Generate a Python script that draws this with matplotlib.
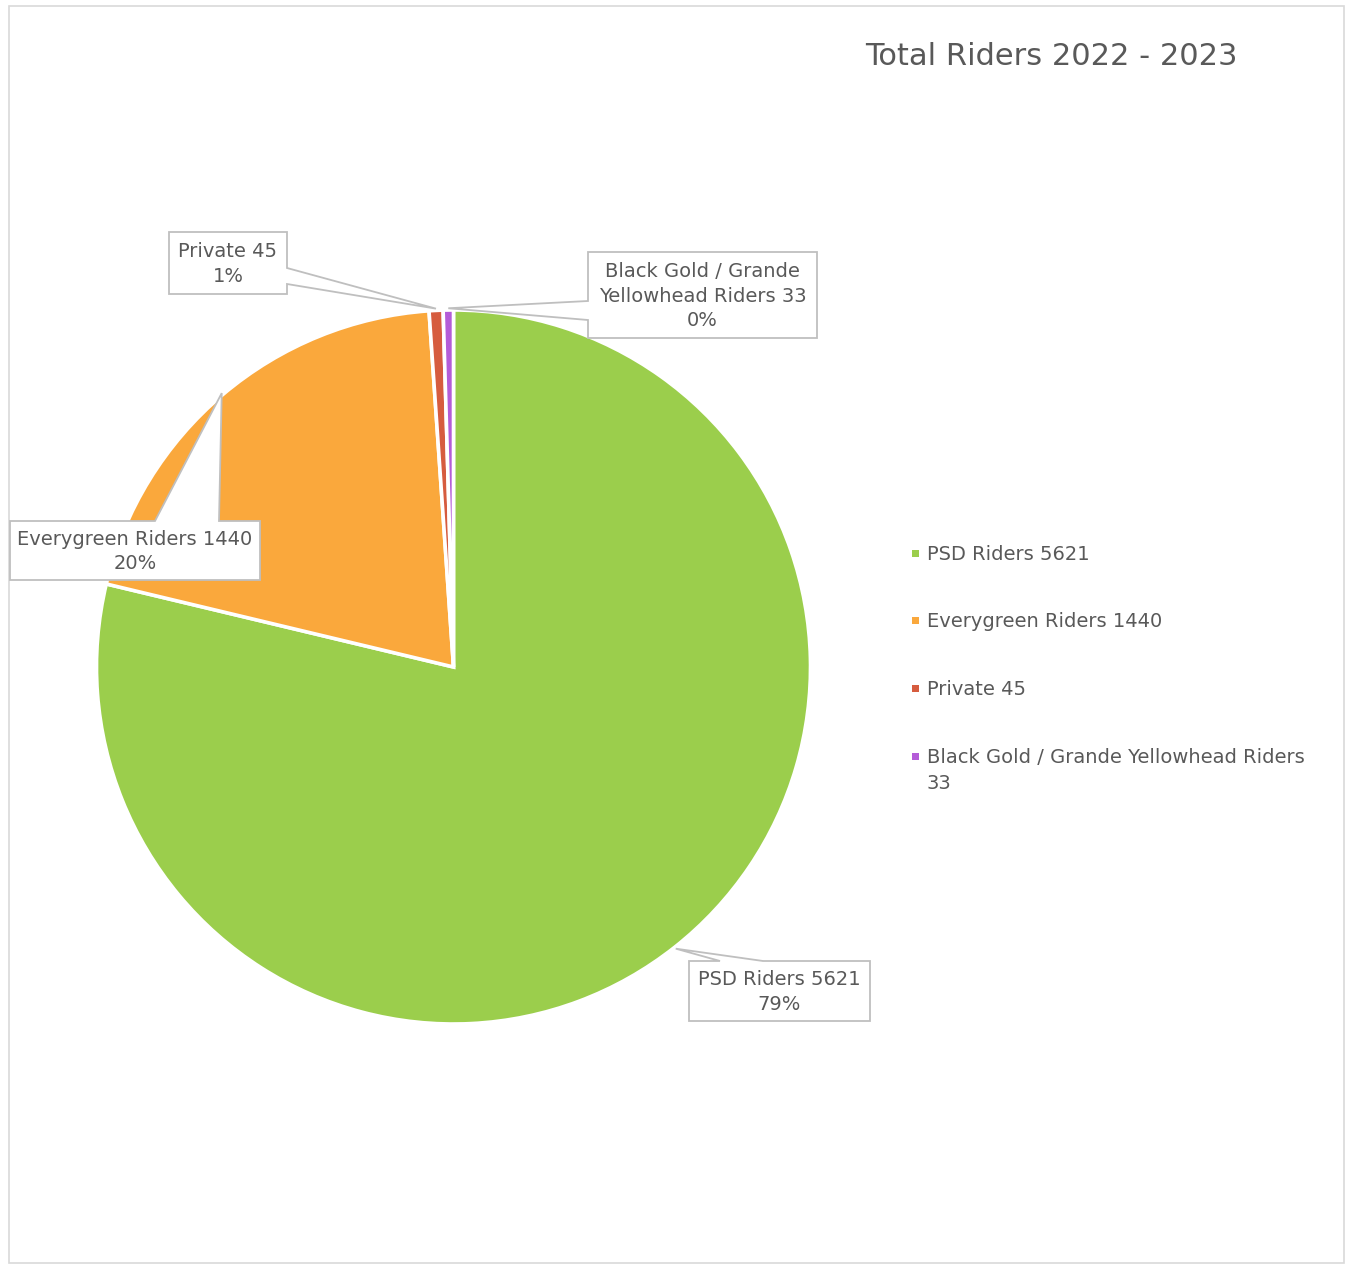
import matplotlib
matplotlib.use("Agg")
import matplotlib.pyplot as plt
from matplotlib.patches import Polygon, Rectangle
import numpy as np

# ---- data ----
categories = ["PSD Riders", "Everygreen Riders", "Private", "Black Gold / Grande Yellowhead Riders"]
values = [5621, 1440, 45, 33]
colors = ["#9BCE4C", "#FAA83C", "#D65C3F", "#B45CD8"]
title = "Total Riders 2022 - 2023"
label_texts = ["PSD Riders 5621", "Everygreen Riders 1440", "Private 45", "Black Gold / Grande\nYellowhead Riders 33"]
legend_texts = ["PSD Riders 5621", "Everygreen Riders 1440", "Private 45", "Black Gold / Grande Yellowhead Riders\n33"]

W, H = 1348, 1266
TXT = "#595959"
EDGE = "#BFBFBF"
FS = 14
plt.rcParams['font.family'] = ['DejaVu Sans']

fig = plt.figure(figsize=(W / 100, H / 100), dpi=100)
ax = fig.add_axes([0, 0, 1, 1])


def Y(y):
    return H - y


cx, cy, R = 453.5, 667, 357
wedges, _ = ax.pie(values, colors=colors, startangle=90, counterclock=False,
                   center=(cx, Y(cy)), radius=R,
                   wedgeprops=dict(edgecolor="white", linewidth=2.6))
ax.set_xlim(0, W)
ax.set_ylim(0, H)
ax.set_aspect("equal")
ax.axis("off")

# outer border
ax.add_patch(Rectangle((8.5, Y(1263)), 1335, 1257, fill=False, edgecolor="#D9D9D9", linewidth=1.2, zorder=0))

total = sum(values)
pcts = [round(v / total * 100) for v in values]

# callout layout (pixel coords, y down): box, side, base span
callouts = [
    ((689, 961, 870, 1021), "top", (720, 763)),
    ((10, 521, 260, 580), "top", (155, 219)),
    ((169, 232, 287, 294), "right", (268, 284)),
    ((588, 252, 817, 338), "left", (301, 320)),
]

for w, txt, p, (box, side, base) in zip(wedges, label_texts, pcts, callouts):
    mid = np.deg2rad((w.theta1 + w.theta2) / 2)
    tx = cx + R * 1.005 * np.cos(mid)
    ty = cy - R * 1.005 * np.sin(mid)
    x0, y0, x1, y1 = box
    b0, b1 = base
    if side == "top":
        pts = [(x0, y0), (b0, y0), (tx, ty), (b1, y0), (x1, y0), (x1, y1), (x0, y1)]
    elif side == "right":
        pts = [(x0, y0), (x1, y0), (x1, b0), (tx, ty), (x1, b1), (x1, y1), (x0, y1)]
    else:
        pts = [(x0, y0), (x1, y0), (x1, y1), (x0, y1), (x0, b1), (tx, ty), (x0, b0)]
    ax.add_patch(Polygon([(x, Y(y)) for x, y in pts], closed=True, facecolor="white",
                         edgecolor=EDGE, linewidth=1.3, zorder=5))
    ax.text((x0 + x1) / 2, Y((y0 + y1) / 2 + 1), f"{txt}\n{p}%", ha="center", va="center",
            multialignment="center", fontsize=FS, color=TXT, linespacing=1.34, zorder=6)

# title
ax.text(1051, Y(65), title, ha="center", va="baseline", fontsize=22, color=TXT)

# legend
leg_y = [553, 620, 688, 756]
for c, t, yc in zip(colors, legend_texts, leg_y):
    ax.add_patch(Rectangle((912, Y(yc + 3.5)), 7, 7, facecolor=c, edgecolor="none"))
    for i, line in enumerate(t.split("\n")):
        ax.text(927, Y(yc + 7 + 26 * i), line, ha="left", va="baseline", fontsize=FS, color=TXT)

fig.savefig("out.png", dpi=100)
